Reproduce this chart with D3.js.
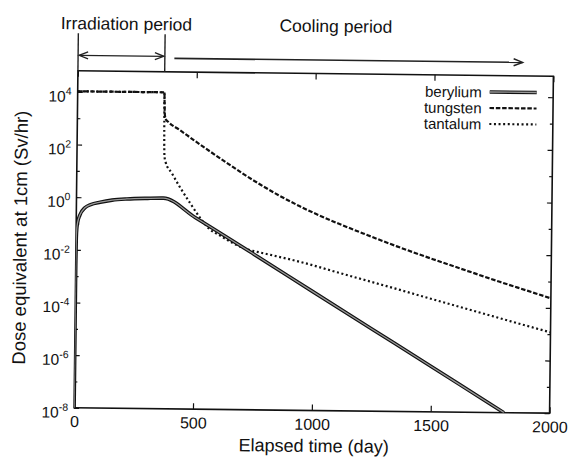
<!DOCTYPE html>
<html><head><meta charset="utf-8">
<script src="https://cdn.jsdelivr.net/npm/d3@7"></script>
<style>
body{margin:0;background:#fff}
text{font-family:"Liberation Sans",Arial,Helvetica,sans-serif;fill:#111}
</style>
</head><body>
<svg id="chart" width="571" height="458"></svg>
<script>
// ---- data ----
const berylliumTime = [0, 0.001, 0.01, 0.1, 1, 3, 6, 15, 36, 60, 100, 150, 212, 300, 365, 500, 750, 1000, 1250, 1500, 1750, 1808];
const berylliumDose = [1e-8, 3e-5, 3e-4, 3e-3, 0.028, 0.07, 0.11, 0.21, 0.40, 0.53, 0.66, 0.80, 0.90, 0.97, 1.0, 0.19, 8.0e-3, 3.2e-4, 1.3e-5, 5.3e-7, 2.1e-8, 1e-8];

const tungstenTime = [0, 365, 366, 368, 372, 383, 430, 492, 560, 635, 700, 774, 850, 942, 1000, 1100, 1224, 1350, 1502, 1650, 1784, 1900, 2000];
const tungstenDose = [1.05e4, 1.05e4, 4.0e3, 1.4e3, 1.0e3, 7.8e2, 4.0e2, 1.62e2, 61.7, 21.9, 9.1, 3.55, 1.45, 0.55, 0.316, 0.132, 0.049, 0.0186, 6.3e-3, 2.3e-3, 9.3e-4, 4.4e-4, 2.3e-4];

const tantalumTime = [0, 365, 366, 368, 372, 400, 437, 480, 522, 560, 606, 660, 719, 780, 846, 942, 1100, 1224, 1350, 1502, 1650, 1784, 2000];
const tantalumDose = [1.05e4, 1.05e4, 3.2e2, 40, 25, 8.9, 2.45, 0.63, 0.18, 0.071, 0.040, 0.021, 0.0126, 9.3e-3, 6.9e-3, 4.4e-3, 1.82e-3, 9.1e-4, 4.5e-4, 1.9e-4, 8.3e-5, 3.9e-5, 1.17e-5];

const seriesNames = ["berylium", "tungsten", "tantalum"];
const xTickValues = [0, 500, 1000, 1500, 2000];
const yMajorExponents = [-8, -6, -4, -2, 0, 2, 4];
const yMinorExponents = [-7, -5, -3, -1, 1, 3];
const xDomain = [0, 2000];
const yDomain = [1e-8, Math.pow(10, 4.8)];
const periodLabels = ["Irradiation period", "Cooling period"];
const periodStart = [0, 405];
const periodEnd = [365, 1870];
const xTitle = "Elapsed time (day)";
const yTitle = "Dose equivalent at 1cm (Sv/hr)";

// ---- layout ----
const L = 76, R = 551.5, T = 73.5, B = 410.5;
const svg = d3.select("#chart");
const root = svg.append("g").attr("transform", "rotate(0.65,314,242)");

const x = d3.scaleLinear().domain(xDomain).range([L, R]);
const y = d3.scaleLog().domain(yDomain).range([B, T]);

root.append("clipPath").attr("id", "plotclip")
  .append("rect").attr("x", L).attr("y", T).attr("width", R - L).attr("height", B - T);

// axes (inward ticks)
const tickStyle = g => { g.select(".domain").remove(); g.selectAll("line").attr("stroke", "#111").attr("stroke-width", 1.2); };

const xb = root.append("g").attr("transform", `translate(0,${B})`)
  .call(d3.axisBottom(x).tickValues(xTickValues).tickSizeInner(-6).tickSizeOuter(0).tickPadding(8).tickFormat(d3.format("d")));
xb.call(tickStyle);
xb.selectAll("text").attr("font-size", 16).attr("fill", "#111");
root.append("g").attr("transform", `translate(0,${T})`)
  .call(d3.axisTop(x).tickValues(xTickValues).tickSizeInner(-6).tickSizeOuter(0).tickFormat(""))
  .call(tickStyle);

const majVals = yMajorExponents.map(e => Math.pow(10, e));
const minVals = yMinorExponents.map(e => Math.pow(10, e));
root.append("g").attr("transform", `translate(${L},0)`)
  .call(d3.axisLeft(y).tickValues(majVals).tickSizeInner(-5).tickSizeOuter(0).tickFormat("")).call(tickStyle);
root.append("g").attr("transform", `translate(${L},0)`)
  .call(d3.axisLeft(y).tickValues(minVals).tickSizeInner(-3).tickSizeOuter(0).tickFormat("")).call(tickStyle);
root.append("g").attr("transform", `translate(${R},0)`)
  .call(d3.axisRight(y).tickValues(majVals).tickSizeInner(-5).tickSizeOuter(0).tickFormat("")).call(tickStyle);
root.append("g").attr("transform", `translate(${R},0)`)
  .call(d3.axisRight(y).tickValues(minVals).tickSizeInner(-3).tickSizeOuter(0).tickFormat("")).call(tickStyle);

// y tick labels 10^n
yMajorExponents.forEach(e => {
  const t = root.append("text").attr("x", 70).attr("y", y(Math.pow(10, e)) + 10)
    .attr("text-anchor", "end").attr("font-size", 15.5);
  t.append("tspan").text("10");
  t.append("tspan").attr("dy", -7).attr("font-size", 10.5).text(String(e));
});

// frame
root.append("rect").attr("x", L).attr("y", T).attr("width", R - L).attr("height", B - T)
  .attr("fill", "none").attr("stroke", "#111").attr("stroke-width", 1.6);

// titles
root.append("text").attr("x", 316).attr("y", 452).attr("text-anchor", "middle")
  .attr("font-size", 18).text(xTitle);
root.append("text").attr("transform", "translate(26.5,241) rotate(-90)").attr("text-anchor", "middle")
  .attr("font-size", 18.5).text(yTitle);

// lines
const mk = (ts, vs) => ts.map((t, i) => [t, vs[i]]);
const line = d3.line().x(d => x(d[0])).y(d => y(d[1])).curve(d3.curveMonotoneX);
const plot = root.append("g").attr("clip-path", "url(#plotclip)");

plot.append("path").datum(mk(tantalumTime, tantalumDose)).attr("d", line)
  .attr("fill", "none").attr("stroke", "#111").attr("stroke-width", 2.2).attr("stroke-dasharray", "2,2.6");
plot.append("path").datum(mk(tungstenTime, tungstenDose)).attr("d", line)
  .attr("fill", "none").attr("stroke", "#111").attr("stroke-width", 2.2).attr("stroke-dasharray", "4.5,1.8");
const be = mk(berylliumTime, berylliumDose);
plot.append("path").datum(be).attr("d", line)
  .attr("fill", "none").attr("stroke", "#111").attr("stroke-width", 3.6);
plot.append("path").datum(be).attr("d", line)
  .attr("fill", "none").attr("stroke", "#999").attr("stroke-width", 1.3);

// legend
const legY = [90, 106, 122];
seriesNames.forEach((name, i) => {
  root.append("text").attr("x", 480).attr("y", legY[i] + 5.5).attr("text-anchor", "end")
    .attr("font-size", 15).text(name);
});
const lg = root.append("g");
lg.append("line").attr("x1", 488).attr("x2", 535).attr("y1", legY[0]).attr("y2", legY[0])
  .attr("stroke", "#111").attr("stroke-width", 3.6);
lg.append("line").attr("x1", 488).attr("x2", 535).attr("y1", legY[0]).attr("y2", legY[0])
  .attr("stroke", "#999").attr("stroke-width", 1.3);
lg.append("line").attr("x1", 488).attr("x2", 535).attr("y1", legY[1]).attr("y2", legY[1])
  .attr("stroke", "#111").attr("stroke-width", 2.2).attr("stroke-dasharray", "4.5,1.8");
lg.append("line").attr("x1", 488).attr("x2", 535).attr("y1", legY[2]).attr("y2", legY[2])
  .attr("stroke", "#111").attr("stroke-width", 2.2).attr("stroke-dasharray", "2,2.6");

// period annotations
const ann = root.append("g").attr("stroke", "#222").attr("fill", "none");
[0, 365].forEach(t => {
  ann.append("line").attr("x1", x(t)).attr("x2", x(t)).attr("y1", 36).attr("y2", T).attr("stroke-width", 1.4);
});
const head = (xp, yp, dir) => `M${xp - dir * 9},${yp - 3.5}L${xp},${yp}L${xp - dir * 9},${yp + 3.5}`;
const ya = 58;
ann.append("line").attr("x1", x(periodStart[0]) + 1).attr("x2", x(periodEnd[0]) - 1).attr("y1", ya).attr("y2", ya).attr("stroke-width", 1.3);
ann.append("path").attr("d", head(x(periodStart[0]) + 1, ya, -1)).attr("stroke-width", 1.3);
ann.append("path").attr("d", head(x(periodEnd[0]) - 1, ya, 1)).attr("stroke-width", 1.3);
const yb = 60;
ann.append("line").attr("x1", x(periodStart[1])).attr("x2", x(periodEnd[1])).attr("y1", yb).attr("y2", yb).attr("stroke-width", 1.6);
ann.append("path").attr("d", head(x(periodEnd[1]), yb, 1)).attr("stroke-width", 1.4);

root.append("text").attr("x", 124).attr("y", 32).attr("text-anchor", "middle").attr("font-size", 17.5).text(periodLabels[0]);
root.append("text").attr("x", 333.5).attr("y", 32).attr("text-anchor", "middle").attr("font-size", 17.5).text(periodLabels[1]);
</script>
</body></html>
